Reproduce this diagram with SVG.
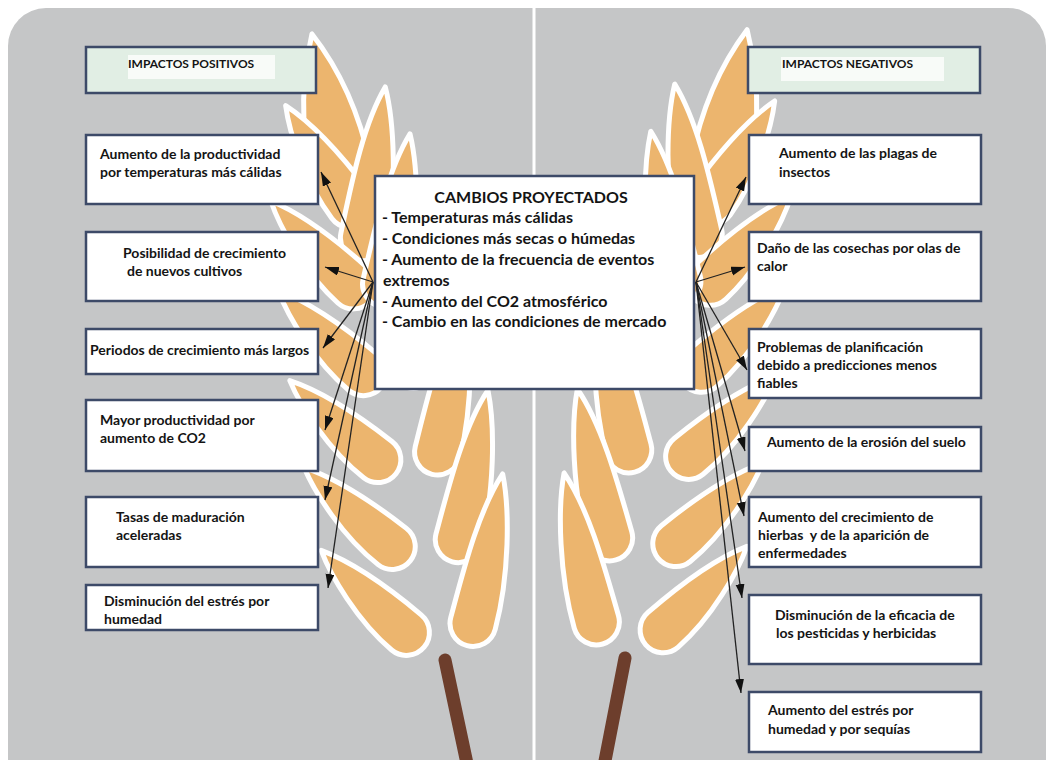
<svg xmlns="http://www.w3.org/2000/svg" xmlns:xlink="http://www.w3.org/1999/xlink" width="1052" height="760" viewBox="0 0 1052 760">
  <style>
    .box { fill:#ffffff; stroke:#3d4a68; stroke-width:2.5; }
    .hdr { fill:#e1eee4; stroke:#3d4a68; stroke-width:2.5; }
    .hdr-in { fill:#f8fbf8; }
    .t { font-family:Lato, 'Liberation Sans', sans-serif; font-weight:700; font-size:14px; fill:#141414; }
    .h { font-size:12px; }
    .c { font-size:16px; }
    .conn line { stroke:#222222; stroke-width:1.3; fill:none; marker-end:url(#ah); }
    .stem { stroke:#6d3e2c; stroke-width:13; stroke-linecap:round; }
    .grains { fill:#ecb56e; stroke:#ffffff; stroke-width:5; stroke-linejoin:round; }
  </style>
  <defs>
    <marker id="ah" markerUnits="userSpaceOnUse" markerWidth="15" markerHeight="10" refX="14" refY="4.5" orient="auto">
      <path d="M0,0 L14,4.5 L0,9 Z" fill="#111111"/>
    </marker>
    <!-- short grain: bulb centred at origin, tip pointing up -->
    <path id="k" d="M -8,-118 C 5,-95 23,-45 23,0 A 23 23 0 0 1 -23,0 C -23,-40 -20,-85 -8,-118 Z"/>
    <!-- long grain -->
    <path id="kl" d="M -10,-152 C 6,-120 23,-55 23,0 A 23 23 0 0 1 -23,0 C -23,-50 -24,-110 -10,-152 Z"/>
    <!-- wheat ear, stem top at origin, axis pointing up -->
    <g id="ear">
      <line class="stem" x1="0" y1="0" x2="0" y2="135"/>
      <g class="grains">
        <path d="M 0,-640 C 18,-600 30,-560 30,-500 A 30 30 0 0 1 -30,-500 C -30,-550 -22,-595 0,-640 Z"/>
        <use xlink:href="#k" transform="translate(-2,-465) rotate(25)"/>
        <use xlink:href="#kl" transform="translate(-8,-430) rotate(-24) scale(-1,1)"/>
        <use xlink:href="#k" transform="translate(12,-385) rotate(36)"/>
        <use xlink:href="#kl" transform="translate(-20,-380) rotate(-25) scale(-1,1)"/>
        <use xlink:href="#k" transform="translate(20,-298) rotate(38)"/>
        <use xlink:href="#kl" transform="translate(-30,-295) rotate(-25) scale(-1,1)"/>
        <use xlink:href="#k" transform="translate(24,-210) rotate(40)"/>
        <use xlink:href="#kl" transform="translate(-36,-205) rotate(-26) scale(-1,1)"/>
        <use xlink:href="#k" transform="translate(28,-122) rotate(40)"/>
        <use xlink:href="#kl" transform="translate(-38,-115) rotate(-27) scale(-1,1)"/>
        <use xlink:href="#k" transform="translate(32,-35) rotate(38)"/>
        <use xlink:href="#kl" transform="translate(-35,-30) rotate(-27) scale(-1,1)"/>
      </g>
    </g>
  </defs>

  <!-- backdrop -->
  <rect x="0" y="0" width="1052" height="760" fill="#ffffff"/>
  <rect x="8" y="8" width="1038" height="800" rx="38" fill="#c5c6c7"/>
  <line x1="534" y1="8" x2="534" y2="760" stroke="#ffffff" stroke-width="3"/>

  <!-- the two wheat ears -->
  <g id="ears">
    <use xlink:href="#ear" transform="translate(445,660) rotate(-12) scale(-1,1)"/>
    <use xlink:href="#ear" transform="translate(625,658) rotate(11)"/>
  </g>

  <!-- left column: positive impacts -->
  <g id="hdr-pos">
    <rect class="hdr" x="86" y="47" width="230" height="46"/>
    <rect class="hdr-in" x="128" y="55" width="147" height="24"/>
    <text class="t h" x="128" y="68">IMPACTOS POSITIVOS</text>
  </g>
  <g id="pos-1">
    <rect class="box" x="86" y="135" width="232" height="69"/>
    <text class="t" x="100" y="159">Aumento de la productividad</text>
    <text class="t" x="100" y="177">por temperaturas más cálidas</text>
  </g>
  <g id="pos-2">
    <rect class="box" x="86" y="232" width="232" height="69"/>
    <text class="t" x="123" y="258">Posibilidad de crecimiento</text>
    <text class="t" x="127" y="276">de nuevos cultivos</text>
  </g>
  <g id="pos-3">
    <rect class="box" x="86" y="329" width="232" height="45"/>
    <text class="t" x="90" y="355">Periodos de crecimiento más largos</text>
  </g>
  <g id="pos-4">
    <rect class="box" x="86" y="400" width="232" height="71"/>
    <text class="t" x="100" y="425">Mayor productividad por</text>
    <text class="t" x="100" y="443">aumento de CO2</text>
  </g>
  <g id="pos-5">
    <rect class="box" x="86" y="497" width="232" height="70"/>
    <text class="t" x="116" y="522">Tasas de maduración</text>
    <text class="t" x="116" y="540">aceleradas</text>
  </g>
  <g id="pos-6">
    <rect class="box" x="86" y="585" width="232" height="45"/>
    <text class="t" x="104" y="606">Disminución del estrés por</text>
    <text class="t" x="104" y="624">humedad</text>
  </g>

  <!-- centre: projected changes -->
  <g id="changes">
    <rect class="box" x="375" y="176" width="319" height="213"/>
    <text class="t c" x="531" y="203" text-anchor="middle">CAMBIOS PROYECTADOS</text>
    <text class="t c" x="382" y="223">- Temperaturas más cálidas</text>
    <text class="t c" x="382" y="244">- Condiciones más secas o húmedas</text>
    <text class="t c" x="382" y="265">- Aumento de la frecuencia de eventos</text>
    <text class="t c" x="383" y="286">extremos</text>
    <text class="t c" x="382" y="307">- Aumento del CO2 atmosférico</text>
    <text class="t c" x="382" y="327">- Cambio en las condiciones de mercado</text>
  </g>

  <!-- right column: negative impacts -->
  <g id="hdr-neg">
    <rect class="hdr" x="748" y="47" width="232" height="46"/>
    <rect class="hdr-in" x="781" y="57" width="163" height="24"/>
    <text class="t h" x="782" y="68">IMPACTOS NEGATIVOS</text>
  </g>
  <g id="neg-1">
    <rect class="box" x="749" y="135" width="232" height="69"/>
    <text class="t" x="779" y="158">Aumento de las plagas de</text>
    <text class="t" x="779" y="177">insectos</text>
  </g>
  <g id="neg-2">
    <rect class="box" x="749" y="232" width="232" height="69"/>
    <text class="t" x="757" y="253">Daño de las cosechas por olas de</text>
    <text class="t" x="757" y="271">calor</text>
  </g>
  <g id="neg-3">
    <rect class="box" x="749" y="329" width="232" height="69"/>
    <text class="t" x="757" y="352">Problemas de planificación</text>
    <text class="t" x="757" y="370">debido a predicciones menos</text>
    <text class="t" x="757" y="388">fiables</text>
  </g>
  <g id="neg-4">
    <rect class="box" x="749" y="427" width="232" height="44"/>
    <text class="t" x="767" y="447">Aumento de la erosión del suelo</text>
  </g>
  <g id="neg-5">
    <rect class="box" x="749" y="497" width="232" height="70"/>
    <text class="t" x="758" y="522">Aumento del crecimiento de</text>
    <text class="t" x="758" y="540" xml:space="preserve">hierbas  y de la aparición de</text>
    <text class="t" x="758" y="558">enfermedades</text>
  </g>
  <g id="neg-6">
    <rect class="box" x="749" y="595" width="232" height="69"/>
    <text class="t" x="775" y="620">Disminución de la eficacia de</text>
    <text class="t" x="776" y="638">los pesticidas y herbicidas</text>
  </g>
  <g id="neg-7">
    <rect class="box" x="749" y="692" width="232" height="60"/>
    <text class="t" x="768" y="715">Aumento del estrés por</text>
    <text class="t" x="768" y="734">humedad y por sequías</text>
  </g>

  <!-- connectors from the centre box -->
  <g class="conn" id="connectors">
    <line x1="373" y1="282" x2="321" y2="172"/>
    <line x1="373" y1="282" x2="325" y2="267"/>
    <line x1="373" y1="282" x2="323" y2="348"/>
    <line x1="373" y1="282" x2="325" y2="430"/>
    <line x1="373" y1="282" x2="325" y2="500"/>
    <line x1="373" y1="282" x2="328" y2="588"/>
    <line x1="696" y1="282" x2="746" y2="177"/>
    <line x1="696" y1="282" x2="745" y2="267"/>
    <line x1="696" y1="282" x2="747" y2="370"/>
    <line x1="696" y1="282" x2="745" y2="451"/>
    <line x1="696" y1="282" x2="744" y2="516"/>
    <line x1="696" y1="282" x2="742" y2="598"/>
    <line x1="696" y1="282" x2="741" y2="693"/>
  </g>
</svg>
